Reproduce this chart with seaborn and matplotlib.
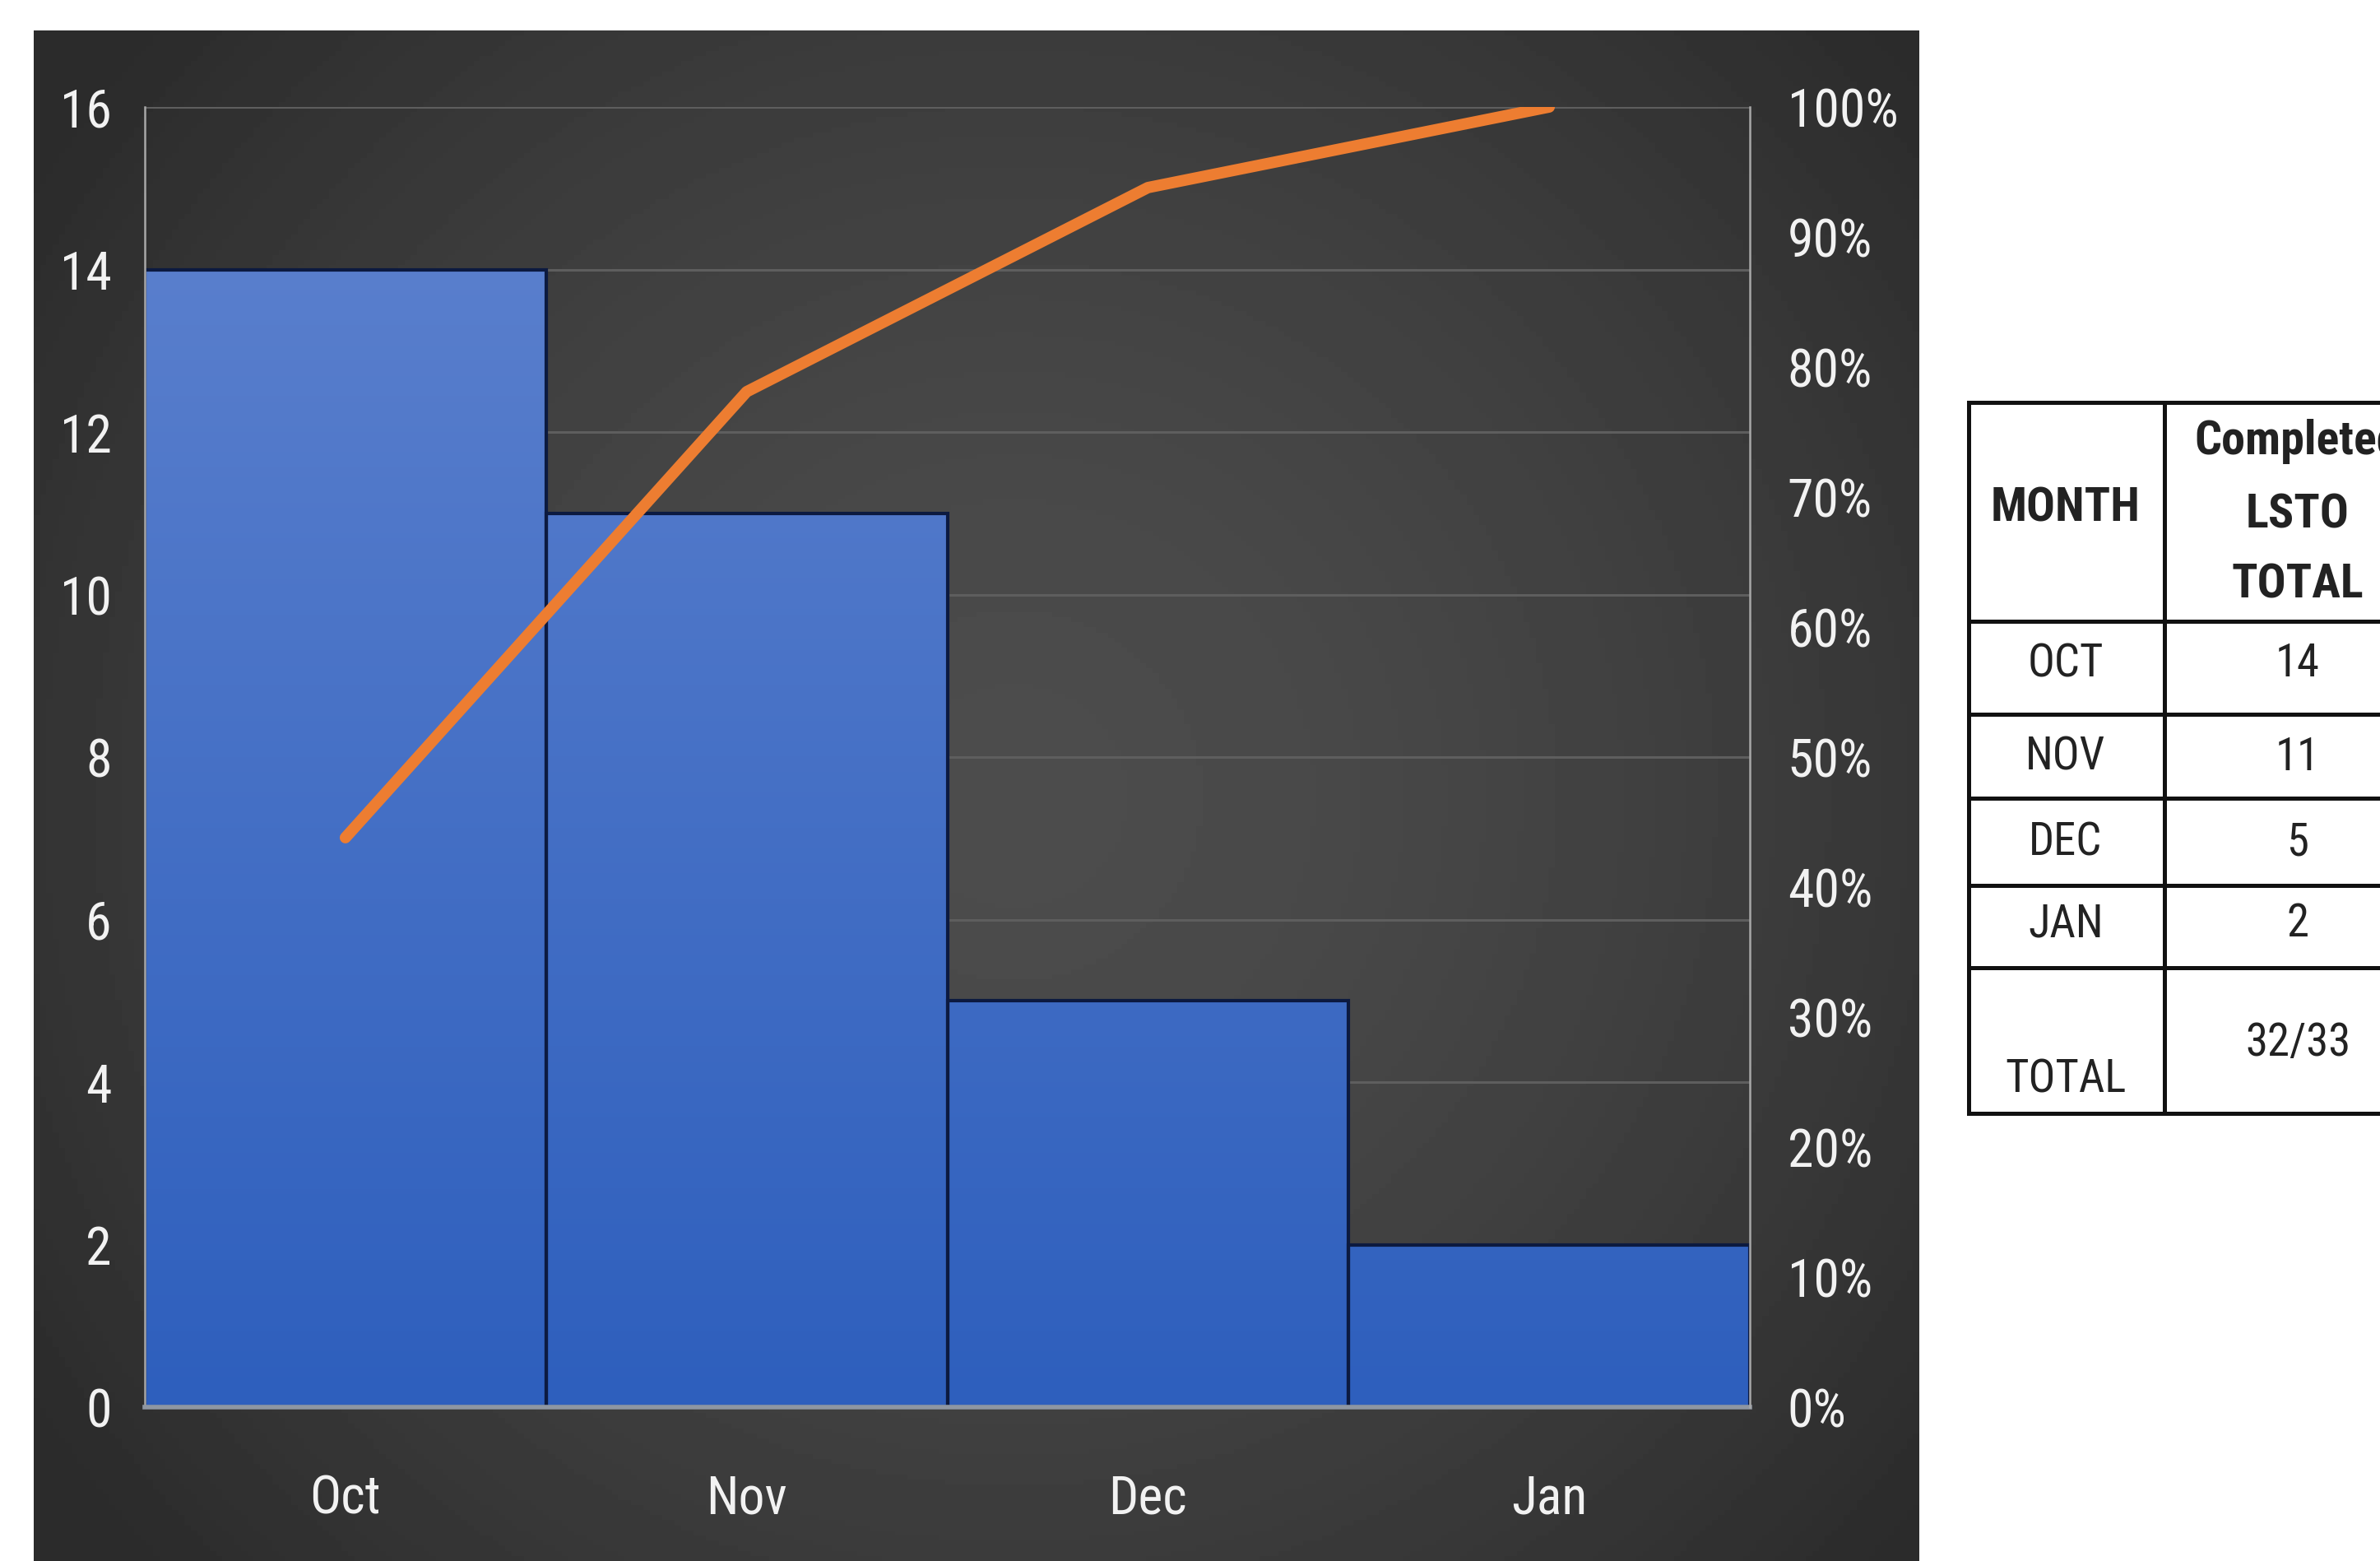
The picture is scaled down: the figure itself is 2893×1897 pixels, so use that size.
import numpy as np
import matplotlib
matplotlib.use("Agg")
import matplotlib.pyplot as plt
from matplotlib import font_manager as fm
from matplotlib.textpath import TextPath
import seaborn as sns

# Chart values
months = ['Oct', 'Nov', 'Dec', 'Jan']
completed = [14, 11, 5, 2]
cum_pct = [43.8, 78.1, 93.8, 100.0]
left_ticks = [0, 2, 4, 6, 8, 10, 12, 14, 16]
right_ticks = [0, 10, 20, 30, 40, 50, 60, 70, 80, 90, 100]

# Side table values
table_header = ['MONTH', 'Completed', 'LSTO', 'TOTAL']
table_months = ['OCT', 'NOV', 'DEC', 'JAN']
table_totals = ['14', '11', '5', '2']
total_label = 'TOTAL'
total_value = '32/33'

sns.set_theme(style="white")

# look for a narrow sans face; the original uses a condensed-looking font
narrow = None
for pref in ['Liberation Sans Narrow', 'Roboto Condensed', 'Open Sans Condensed',
             'Noto Sans Condensed', 'DejaVu Sans Condensed']:
    if any(f.name == pref for f in fm.fontManager.ttflist):
        narrow = pref
        break
stretch = 'normal'
if narrow is None:
    for f in fm.fontManager.ttflist:
        if f.stretch in ('condensed', 'semi-condensed') and 'Mono' not in f.name \
                and 'Serif' not in f.name and 'CJK' not in f.name:
            narrow = f.name
            stretch = 'condensed'
            break
if narrow is None:
    narrow = 'Liberation Sans'
plt.rcParams['font.family'] = [narrow, 'Liberation Sans', 'DejaVu Sans']
plt.rcParams['font.stretch'] = stretch


def size_for(text, target_px, weight='normal'):
    # font size (pt) that gives the wanted ink width at dpi 100
    fp = fm.FontProperties(family=[narrow, 'DejaVu Sans'], weight=weight, stretch=stretch)
    w = TextPath((0, 0), text, size=100, prop=fp).get_extents().width
    return 100 * target_px / w * 0.72


tick_fs = min(size_for('100%', 127), 48)
head_fs = min(size_for('MONTH', 175, 'bold'), 44)
cell_fs = min(size_for('32/33', 122), 42)

W, H = 2893, 1897
fig = plt.figure(figsize=(W / 100, H / 100), dpi=100)
fig.patch.set_facecolor('white')

# dark panel behind the chart, radial grey gradient
bg = fig.add_axes([41 / W, 0, (2333 - 41) / W, (H - 37) / H])
bg.set_axis_off()
gx, gy = np.meshgrid(np.linspace(0, 1, 300), np.linspace(0, 1, 300))
r = np.sqrt(((gx - 0.52) / 0.62) ** 2 + ((gy - 0.5) / 0.75) ** 2)
shade = 0.30 - 0.13 * np.clip(r, 0, 1) ** 1.6
bg.imshow(shade, cmap='gray', vmin=0, vmax=1, aspect='auto', extent=[0, 1, 0, 1])

# main axes
ax = fig.add_axes([176 / W, (H - 1710) / H, (2127 - 176) / W, (1710 - 130) / H])
ax.set_facecolor('none')
sns.barplot(x=months, y=completed, ax=ax, width=1.0, color='#4472c4',
            edgecolor='#0c1a40', linewidth=3, saturation=1)
ax.set_axisbelow(True)
ax.grid(axis='y', color='#5e5e5e', linewidth=2.2)
ax.grid(axis='x', visible=False)

# vertical blue gradient for the bars
blues = matplotlib.colors.LinearSegmentedColormap.from_list('bars', ['#2e5fbd', '#5f83cf'])
grad = np.linspace(1, 0, 256).reshape(-1, 1)
for p in ax.patches:
    im = ax.imshow(grad, cmap=blues, aspect='auto', extent=[-0.5, 3.5, 0, 16],
                   zorder=p.get_zorder() - 0.05)
    im.set_clip_path(p)
    p.set_facecolor('none')
ax.set_xlim(-0.5, 3.5)
ax.set_ylim(0, 16)
ax.set_yticks(left_ticks)

ax2 = ax.twinx()
sns.lineplot(x=months, y=cum_pct, ax=ax2, color='#ed7d31', linewidth=10,
             solid_capstyle='round', solid_joinstyle='round')
ax2.set_ylim(0, 100)
ax2.set_yticks(right_ticks)
ax2.set_yticklabels([f'{v}%' for v in right_ticks])
ax2.set_xlim(-0.5, 3.5)
ax2.grid(False)

ax.set_xlabel('')
ax.set_ylabel('')
ax2.set_xlabel('')
ax2.set_ylabel('')

for a in (ax, ax2):
    for s in a.spines.values():
        s.set_visible(False)
ax.spines['left'].set_visible(True)
ax.spines['left'].set_color('#a8a8a8')
ax.spines['left'].set_linewidth(1.8)
ax.spines['bottom'].set_visible(True)
ax.spines['bottom'].set_color('#8e96a2')
ax.spines['bottom'].set_linewidth(4)
ax2.spines['right'].set_visible(True)
ax2.spines['right'].set_color('#a8a8a8')
ax2.spines['right'].set_linewidth(1.8)

ax.tick_params(axis='y', length=0, pad=29, labelsize=tick_fs, labelcolor='#f2f2f2')
ax.tick_params(axis='x', length=0, pad=58, labelsize=tick_fs, labelcolor='#f2f2f2')
ax2.tick_params(axis='y', length=0, pad=33, labelsize=tick_fs, labelcolor='#f2f2f2')

# side table (layout in pixels from its top-left corner)
tx0, ty0, ty1 = 2393, 489, 1353
tab = fig.add_axes([tx0 / W, (H - ty1) / H, (W - tx0) / W, (ty1 - ty0) / H])
tab.set_axis_off()
tab.set_xlim(0, W - tx0)
tab.set_ylim(ty1 - ty0, 0)
row_edges = [0, 266, 379, 481, 587, 687, 864]
col_edges = [0, 238, 565]
lw = 3.6
for y in row_edges:
    tab.plot([0, 700], [y, y], color='#111111', linewidth=lw, clip_on=False,
             solid_capstyle='projecting')
for x in col_edges:
    tab.plot([x, x], [0, 864], color='#111111', linewidth=lw, clip_on=False)

c1, c2 = 118, 400
tab.text(c1, 129, table_header[0], ha='center', va='center', fontsize=head_fs,
         fontweight='bold', color='#222222')
for y, t in zip([47, 137, 222], table_header[1:]):
    tab.text(c2, y, t, ha='center', va='center', fontsize=head_fs,
             fontweight='bold', color='#222222', clip_on=False)
for y, m, v in zip([318, 431, 535, 634], table_months, table_totals):
    tab.text(c1, y, m, ha='center', va='center', fontsize=cell_fs, color='#222222')
    tab.text(c2, y, v, ha='center', va='center', fontsize=cell_fs, color='#222222')
tab.text(c1, 823, total_label, ha='center', va='center', fontsize=cell_fs, color='#222222')
tab.text(c2, 778, total_value, ha='center', va='center', fontsize=cell_fs, color='#222222')

fig.savefig('out.png', dpi=100, facecolor='white')
